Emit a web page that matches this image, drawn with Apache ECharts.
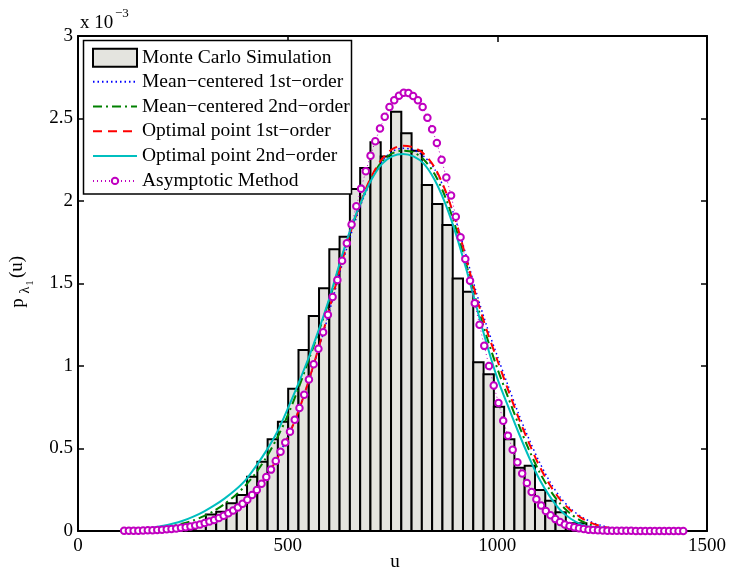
<!DOCTYPE html>
<html><head><meta charset="utf-8">
<script src="https://cdn.jsdelivr.net/npm/echarts@6/dist/echarts.min.js"></script>
<style>html,body{margin:0;padding:0;background:#fff}#c{width:729px;height:573px}</style>
</head><body><div id="c"></div>
<script>
// ---- Histogram (Monte Carlo), values in units of 1e-3 ----
const binEdges = [231.5,256.0,280.5,305.0,329.6,354.1,378.6,403.1,427.7,452.2,476.7,501.2,525.8,550.3,574.8,599.3,623.8,648.4,672.9,697.4,721.9,746.5,771.0,795.5,820.0,844.5,869.1,893.6,918.1,942.6,967.2,991.7,1016.2,1040.7,1065.2,1089.8,1114.3,1138.8,1163.3,1187.9,1212.4,1236.9,1261.4,1285.9];
const binHeights = [0.004,0.012,0.04,0.10,0.117,0.168,0.218,0.329,0.42,0.556,0.662,0.862,1.097,1.303,1.471,1.707,1.784,2.073,2.2,2.356,2.269,2.541,2.41,2.305,2.097,1.982,1.855,1.531,1.45,1.022,0.95,0.753,0.556,0.384,0.396,0.248,0.184,0.113,0.047,0.047,0.022,0.008,0.003];

// ---- Approximation curves (u grid, values in 1e-3) ----
const curveU = [110,125,150,175,200,225,250,275,300,325,350,375,400,425,450,475,500,525,550,575,600,625,650,675,700,725,750,775,800,825,850,875,900,925,950,975,1000,1025,1050,1075,1100,1125,1150,1175,1200,1225,1250,1275,1300,1350,1400,1443];
const meanC1 = [0.001,0.002,0.003,0.005,0.008,0.013,0.02,0.031,0.048,0.069,0.098,0.137,0.19,0.256,0.34,0.445,0.57,0.725,0.905,1.11,1.335,1.57,1.79,1.98,2.13,2.24,2.3,2.32,2.31,2.27,2.195,2.065,1.89,1.675,1.445,1.24,1.06,0.885,0.715,0.56,0.42,0.3,0.205,0.135,0.087,0.054,0.032,0.018,0.01,0.003,0.001,0];
const meanC2 = [0.002,0.004,0.007,0.012,0.02,0.031,0.045,0.064,0.09,0.123,0.165,0.215,0.278,0.355,0.45,0.565,0.70,0.86,1.035,1.215,1.405,1.62,1.82,1.995,2.14,2.24,2.29,2.305,2.295,2.25,2.165,2.03,1.845,1.625,1.39,1.175,0.985,0.815,0.65,0.495,0.36,0.25,0.165,0.103,0.062,0.035,0.019,0.01,0.005,0.002,0.001,0];
const optP1 = [0.001,0.002,0.003,0.005,0.008,0.013,0.02,0.031,0.047,0.068,0.096,0.135,0.187,0.252,0.335,0.44,0.565,0.72,0.91,1.12,1.35,1.59,1.81,2.0,2.15,2.255,2.315,2.335,2.325,2.285,2.205,2.07,1.885,1.66,1.42,1.215,1.035,0.86,0.69,0.535,0.395,0.28,0.19,0.125,0.08,0.048,0.028,0.016,0.009,0.003,0.001,0];
const optP2 = [0.003,0.006,0.011,0.019,0.030,0.044,0.062,0.087,0.118,0.155,0.198,0.248,0.31,0.395,0.49,0.60,0.74,0.89,1.05,1.225,1.415,1.63,1.83,1.995,2.13,2.225,2.272,2.285,2.27,2.225,2.13,1.99,1.81,1.595,1.36,1.13,0.925,0.76,0.60,0.45,0.315,0.21,0.127,0.074,0.04,0.02,0.01,0.005,0.003,0.001,0,0];

// ---- Asymptotic method (marker points) ----
const asymU = [110,121.3,132.6,143.9,155.2,166.5,177.8,189.1,200.4,211.7,223.0,234.3,245.6,256.9,268.2,279.5,290.8,302.1,313.4,324.7,336.0,347.3,358.6,369.9,381.2,392.5,403.8,415.1,426.4,437.7,449.0,460.3,471.6,482.9,494.2,505.5,516.8,528.1,539.4,550.7,562.0,573.3,584.6,595.9,607.2,618.5,629.8,641.1,652.4,663.7,675.0,686.3,697.6,708.9,720.2,731.5,742.8,754.1,765.4,776.7,788.0,799.3,810.6,821.9,833.2,844.5,855.8,867.1,878.4,889.7,901.0,912.3,923.6,934.9,946.2,957.5,968.8,980.1,991.4,1002.7,1014.0,1025.3,1036.6,1047.9,1059.2,1070.5,1081.8,1093.1,1104.4,1115.7,1127.0,1138.3,1149.6,1160.9,1172.2,1183.5,1194.8,1206.1,1217.4,1228.7,1240.0,1251.3,1262.6,1273.9,1285.2,1296.5,1307.8,1319.1,1330.4,1341.7,1353.0,1364.3,1375.6,1386.9,1398.2,1409.5,1420.8,1432.1,1443.4];
const asymV = [0.001,0.001,0.002,0.002,0.003,0.004,0.005,0.006,0.008,0.010,0.012,0.015,0.019,0.023,0.028,0.034,0.040,0.048,0.057,0.067,0.079,0.092,0.107,0.124,0.143,0.165,0.19,0.218,0.249,0.287,0.327,0.372,0.424,0.48,0.536,0.602,0.674,0.745,0.826,0.918,1.01,1.104,1.205,1.31,1.418,1.521,1.638,1.744,1.858,1.968,2.075,2.18,2.275,2.362,2.44,2.51,2.57,2.61,2.638,2.656,2.655,2.637,2.61,2.57,2.505,2.435,2.352,2.25,2.142,2.034,1.905,1.78,1.648,1.517,1.38,1.25,1.122,1.0,0.882,0.776,0.668,0.578,0.492,0.417,0.348,0.291,0.236,0.192,0.154,0.121,0.095,0.072,0.055,0.040,0.030,0.022,0.016,0.012,0.008,0.006,0.004,0.003,0.002,0.002,0.001,0.001,0.001,0.001,0,0,0,0,0,0,0,0,0,0,0];

const xTicks = [0, 1500, 500];   // min, max, interval
const yTicks = [0, 3, 0.5];
const seriesNames = ['Monte Carlo Simulation','Mean\u2212centered 1st\u2212order','Mean\u2212centered 2nd\u2212order','Optimal point 1st\u2212order','Optimal point 2nd\u2212order','Asymptotic Method'];

const FONT = 'Liberation Serif';
const histData = binHeights.map((h, i) => [binEdges[i], binEdges[i + 1], h]);
const pairs = (xs, ys) => xs.map((x, i) => [x, ys[i]]);

const chart = echarts.init(document.getElementById('c'), null, {renderer: 'canvas'});
const tickLine = {color: '#000', width: 1.5};
const axisCommon = {
  type: 'value', min: xTicks[0], max: xTicks[1], interval: xTicks[2],
  axisLine: {show: true, onZero: false, lineStyle: {color: '#000', width: 2}},
  axisTick: {show: true, inside: true, length: 6, lineStyle: tickLine},
  splitLine: {show: false}
};
const yCommon = {
  type: 'value', min: yTicks[0], max: yTicks[1], interval: yTicks[2],
  axisLine: {show: true, onZero: false, lineStyle: {color: '#000', width: 2}},
  axisTick: {show: true, inside: true, length: 6, lineStyle: tickLine},
  splitLine: {show: false}
};
const lineCommon = {type: 'line', showSymbol: false, symbol: 'none', smooth: 0.3, z: 3};
const legendText = {fontFamily: FONT, fontSize: 19.5, color: '#000'};
const hidden = {opacity: 0};

chart.setOption({
  animation: false,
  grid: {left: 78, right: 22, top: 36, bottom: 42, containLabel: false, outerBoundsMode: 'none'},
  xAxis: [
    Object.assign({}, axisCommon, {position: 'bottom',
      axisLabel: {show: true, fontFamily: FONT, fontSize: 19, color: '#000', margin: 6, formatter: v => String(v)}}),
    Object.assign({}, axisCommon, {position: 'top', axisLabel: {show: false}})
  ],
  yAxis: [
    Object.assign({}, yCommon, {position: 'left',
      axisLabel: {show: true, fontFamily: FONT, fontSize: 19, color: '#000', margin: 5, formatter: v => String(v)}}),
    Object.assign({}, yCommon, {position: 'right', axisLabel: {show: false}})
  ],
  legend: [
    {
      left: 92, top: 47.7, orient: 'vertical', align: 'left', z: 20,
      itemWidth: 44, itemHeight: 18, itemGap: 0, padding: 0,
      textStyle: Object.assign({lineHeight: 18}, legendText),
      data: [{name: seriesNames[0], icon: 'rect'}]
    },
    {
      left: 92, top: 71.7, orient: 'vertical', align: 'left', z: 20,
      itemWidth: 44, itemHeight: 8, itemGap: 4.8, padding: 0,
      textStyle: Object.assign({lineHeight: 20}, legendText),
      data: [
        {name: seriesNames[1], itemStyle: hidden},
        {name: seriesNames[2], itemStyle: hidden},
        {name: seriesNames[3], itemStyle: hidden},
        {name: seriesNames[4], itemStyle: hidden},
        {name: seriesNames[5]}
      ]
    }
  ],
  graphic: [
    {type: 'rect', z: 10, shape: {x: 83.5, y: 40.5, width: 268, height: 153.5},
      style: {fill: '#fff', stroke: '#000', lineWidth: 1.5}},
    {type: 'text', left: 80, top: 14, style: {text: 'x 10', font: '19px "Liberation Serif"', fill: '#000'}},
    {type: 'text', left: 115, top: 7, style: {text: '\u22123', font: '13px "Liberation Serif"', fill: '#000'}},
    {type: 'text', x: 395, y: 562, style: {text: 'u', font: '19px "Liberation Serif"', fill: '#000', textAlign: 'center', textVerticalAlign: 'middle'}},
    {type: 'text', x: 18, y: 303, rotation: Math.PI / 2, style: {text: 'p', font: '19px "Liberation Serif"', fill: '#000', textAlign: 'center', textVerticalAlign: 'middle'}},
    {type: 'text', x: 25, y: 290, rotation: Math.PI / 2, style: {text: '\u03bb', font: '14px "Liberation Serif"', fill: '#000', textAlign: 'center', textVerticalAlign: 'middle'}},
    {type: 'text', x: 30, y: 283, rotation: Math.PI / 2, style: {text: '1', font: '10px "Liberation Serif"', fill: '#000', textAlign: 'center', textVerticalAlign: 'middle'}},
    {type: 'text', x: 17, y: 267, rotation: Math.PI / 2, style: {text: '(u)', font: '19px "Liberation Serif"', fill: '#000', textAlign: 'center', textVerticalAlign: 'middle'}}
  ],
  series: [
    {
      name: seriesNames[0], type: 'custom', z: 1,
      itemStyle: {color: '#e4e4df', borderColor: '#000', borderWidth: 2},
      encode: {x: [0, 1], y: 2},
      data: histData,
      renderItem: function (params, api) {
        const p0 = api.coord([api.value(0), api.value(2)]);
        const p1 = api.coord([api.value(1), 0]);
        return {type: 'rect', shape: {x: p0[0], y: p0[1], width: p1[0] - p0[0], height: p1[1] - p0[1]},
          style: {fill: '#e4e4df', stroke: '#000', lineWidth: 2}};
      }
    },
    Object.assign({}, lineCommon, {name: seriesNames[1], data: pairs(curveU, meanC1),
      itemStyle: {color: '#0000ff'}, lineStyle: {color: '#0000ff', width: 1.5, type: [1.5, 3]}}),
    Object.assign({}, lineCommon, {name: seriesNames[2], data: pairs(curveU, meanC2),
      itemStyle: {color: '#008000'}, lineStyle: {color: '#008000', width: 2, type: [9, 4, 2, 4]}}),
    Object.assign({}, lineCommon, {name: seriesNames[3], data: pairs(curveU, optP1),
      itemStyle: {color: '#ff0000'}, lineStyle: {color: '#ff0000', width: 2, type: [9, 6]}}),
    Object.assign({}, lineCommon, {name: seriesNames[4], data: pairs(curveU, optP2),
      itemStyle: {color: '#00bfbf'}, lineStyle: {color: '#00bfbf', width: 2, type: 'solid'}}),
    {
      name: seriesNames[5], type: 'line', z: 4, smooth: false, showSymbol: true, symbol: 'emptyCircle', symbolSize: 6.5,
      data: pairs(asymU, asymV),
      itemStyle: {color: '#c000c0', borderColor: '#c000c0', borderWidth: 2},
      lineStyle: {color: '#c000c0', width: 1, type: [1, 3]}
    }
  ]
});
</script></body></html>
